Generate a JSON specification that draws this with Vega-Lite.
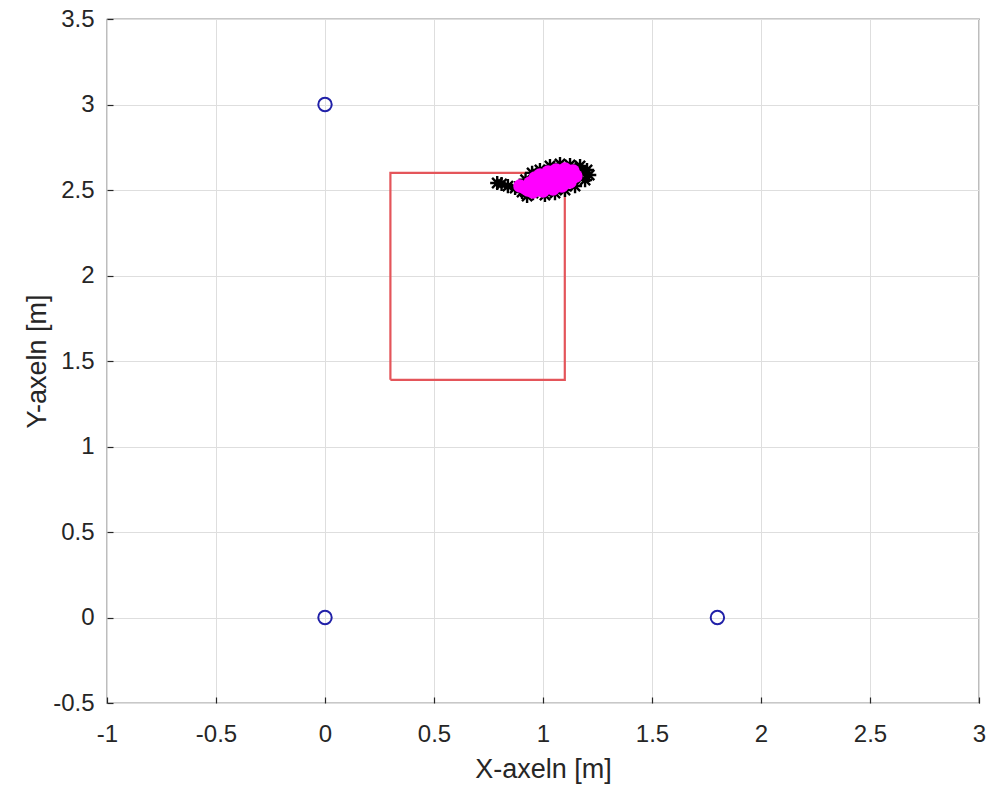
{
  "$schema": "https://vega.github.io/schema/vega-lite/v6.json",
  "width": 872,
  "height": 684,
  "autosize": "none",
  "padding": {"left": 107, "top": 19, "right": 7, "bottom": 86},
  "background": "white",
  "datasets": {
    "anchors": [{"x": 0, "y": 3}, {"x": 0, "y": 0}, {"x": 1.8, "y": 0}],
    "box": [
      {"i": 0, "x": 0.3, "y": 1.39},
      {"i": 1, "x": 1.1, "y": 1.39},
      {"i": 2, "x": 1.1, "y": 2.6},
      {"i": 3, "x": 0.3, "y": 2.6},
      {"i": 4, "x": 0.3, "y": 1.39}
    ],
    "meas": [
      {"x": 0.79, "y": 2.541}, {"x": 0.81, "y": 2.535}, {"x": 0.839, "y": 2.523}, {"x": 0.872, "y": 2.512},
      {"x": 0.904, "y": 2.488}, {"x": 0.927, "y": 2.465}, {"x": 0.954, "y": 2.482}, {"x": 0.986, "y": 2.617},
      {"x": 1.032, "y": 2.64}, {"x": 1.078, "y": 2.652}, {"x": 1.124, "y": 2.646}, {"x": 1.17, "y": 2.64},
      {"x": 1.202, "y": 2.617}, {"x": 1.212, "y": 2.588}, {"x": 1.193, "y": 2.558}, {"x": 1.147, "y": 2.523},
      {"x": 1.101, "y": 2.5}, {"x": 1.055, "y": 2.482}, {"x": 1.009, "y": 2.471}, {"x": 0.95, "y": 2.6},
      {"x": 0.92, "y": 2.56}, {"x": 1.15, "y": 2.62}, {"x": 1.18, "y": 2.6}
    ],
    "est": [
      {"x": 0.917, "y": 2.512}, {"x": 0.94, "y": 2.541}, {"x": 0.963, "y": 2.57}, {"x": 0.986, "y": 2.588},
      {"x": 1.023, "y": 2.605}, {"x": 1.06, "y": 2.617}, {"x": 1.101, "y": 2.623}, {"x": 1.138, "y": 2.611},
      {"x": 1.151, "y": 2.582}, {"x": 1.124, "y": 2.547}, {"x": 1.087, "y": 2.523}, {"x": 1.046, "y": 2.506},
      {"x": 1.0, "y": 2.494}, {"x": 0.954, "y": 2.488}, {"x": 0.986, "y": 2.541}, {"x": 1.032, "y": 2.558},
      {"x": 1.078, "y": 2.576}, {"x": 1.009, "y": 2.523}, {"x": 1.055, "y": 2.535}, {"x": 1.101, "y": 2.57},
      {"x": 0.931, "y": 2.5}, {"x": 0.894, "y": 2.523}
    ]
  },
  "config": {
    "view": {"stroke": "#262626", "strokeWidth": 1.2},
    "axis": {
      "grid": true,
      "gridColor": "#dedede",
      "gridWidth": 1,
      "domain": false,
      "ticks": true,
      "tickSize": -6,
      "tickColor": "#262626",
      "tickWidth": 1.2,
      "labelFont": "Liberation Sans",
      "labelFontSize": 24,
      "labelColor": "#262626",
      "labelExpr": "datum.value < 0 ? '-' + format(-datum.value, '~g') : format(datum.value, '~g')",
      "titleFont": "Liberation Sans",
      "titleFontSize": 27,
      "titleFontWeight": "normal",
      "titleColor": "#262626"
    }
  },
  "encoding": {
    "x": {
      "field": "x", "type": "quantitative",
      "scale": {"domain": [-1, 3], "nice": false, "zero": false},
      "axis": {"title": "X-axeln [m]", "values": [-1, -0.5, 0, 0.5, 1, 1.5, 2, 2.5, 3], "labelPadding": 25, "titlePadding": 10, "labelFlush": false, "labelOverlap": false}
    },
    "y": {
      "field": "y", "type": "quantitative",
      "scale": {"domain": [-0.5, 3.5], "nice": false, "zero": false},
      "axis": {"title": "Y-axeln [m]", "values": [-0.5, 0, 0.5, 1, 1.5, 2, 2.5, 3, 3.5], "labelPadding": 19, "titlePadding": 1, "labelFlush": false, "labelOverlap": false}
    }
  },
  "layer": [
    {
      "data": {"name": "box"},
      "mark": {"type": "line", "color": "#e4555a", "strokeWidth": 2.2},
      "encoding": {"order": {"field": "i", "type": "quantitative"}}
    },
    {
      "data": {"name": "anchors"},
      "mark": {"type": "point", "shape": "circle", "size": 180, "filled": false, "color": "#2020a8", "strokeWidth": 2, "opacity": 1}
    },
    {
      "data": {"name": "meas"},
      "mark": {"type": "point", "shape": "M-1,0L1,0M0,-1L0,1M-0.72,-0.72L0.72,0.72M-0.72,0.72L0.72,-0.72", "size": 200, "filled": false, "color": "black", "strokeWidth": 2.4, "opacity": 1}
    },
    {
      "data": {"name": "est"},
      "mark": {"type": "point", "shape": "circle", "size": 180, "filled": true, "color": "#ff00ff", "opacity": 1}
    }
  ]
}
